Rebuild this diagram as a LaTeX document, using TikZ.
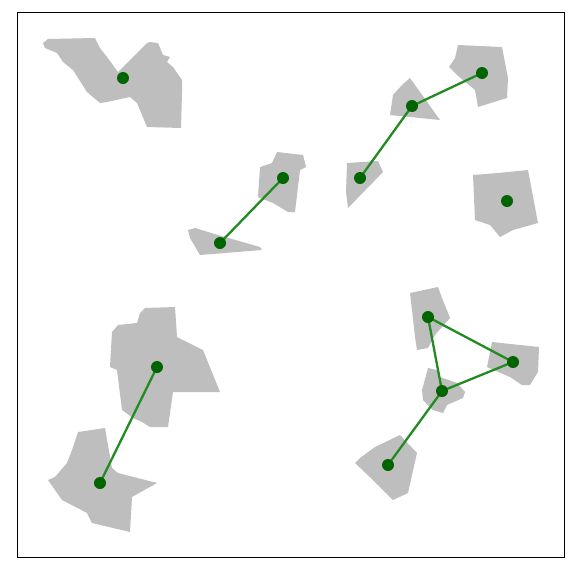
\documentclass[tikz,border=0pt]{standalone}
\usepackage{tikz}
\usetikzlibrary{backgrounds}
\definecolor{regiongray}{RGB}{190,190,190}
\definecolor{edgegreen}{RGB}{34,139,34}
\definecolor{dotgreen}{RGB}{0,100,0}
\tikzset{
  region/.style={fill=regiongray,draw=none},
  site/.style={circle,fill=dotgreen,draw=none,minimum size=12pt,inner sep=0pt},
  link/.style={draw=edgegreen,line width=2.3pt}
}
\begin{document}
\begin{tikzpicture}[x=1pt,y=-1pt]
\useasboundingbox (0,0) rectangle (576,576);
% sites
\node[site] (s1) at (123,78) {};
\node[site] (s2) at (482,73) {};
\node[site] (s3) at (412,106) {};
\node[site] (s4) at (360,178) {};
\node[site] (s5) at (507,201) {};
\node[site] (s6) at (283,178) {};
\node[site] (s7) at (220,243) {};
\node[site] (s8) at (157,367) {};
\node[site] (s9) at (100,483) {};
\node[site] (s10) at (428,317) {};
\node[site] (s11) at (513,362) {};
\node[site] (s12) at (442,391) {};
\node[site] (s13) at (388,465) {};
\begin{pgfonlayer}{background}
% regions
\fill[region] (43,43) -- (48,39) -- (95,38) -- (100,48) -- (107,57) -- (118,72) -- (147,43) -- (150,42) -- (158,43) -- (163,55) -- (170,57) -- (167,62) -- (173,67) -- (182,80) -- (182,93) -- (181,128) -- (147,127) -- (137,103) -- (130,97) -- (107,102) -- (100,103) -- (87,92) -- (73,70) -- (63,62) -- (57,53) -- (45,48) -- cycle;
\fill[region] (458,45) -- (502,47) -- (508,78) -- (507,98) -- (478,107) -- (475,90) -- (457,75) -- (449,67) -- (455,58) -- cycle;
\fill[region] (410,78) -- (440,120) -- (390,115) -- (393,95) -- (402,85) -- cycle;
\fill[region] (347,163) -- (378,161) -- (383,172) -- (348,208) -- (346,192) -- cycle;
\fill[region] (473,175) -- (498,173) -- (528,170) -- (538,223) -- (513,230) -- (500,237) -- (490,225) -- (475,220) -- cycle;
\fill[region] (277,152) -- (303,155) -- (306,167) -- (300,170) -- (295,212) -- (288,212) -- (273,203) -- (258,197) -- (260,167) -- (272,163) -- cycle;
\fill[region] (188,230) -- (195,228) -- (218,235) -- (260,247) -- (262,250) -- (200,255) -- (190,238) -- cycle;
\fill[region] (140,313) -- (145,308) -- (175,307) -- (177,337) -- (203,350) -- (220,392) -- (173,392) -- (168,427) -- (150,427) -- (142,422) -- (133,418) -- (122,410) -- (117,370) -- (110,367) -- (112,332) -- (118,325) -- (137,323) -- cycle;
\fill[region] (78,432) -- (105,428) -- (112,468) -- (118,473) -- (157,483) -- (132,497) -- (130,532) -- (92,523) -- (87,513) -- (62,500) -- (48,480) -- (55,477) -- (67,463) -- (72,450) -- cycle;
\fill[region] (410,293) -- (438,287) -- (442,298) -- (450,318) -- (435,335) -- (428,348) -- (417,350) -- (415,337) -- (412,310) -- cycle;
\fill[region] (492,342) -- (520,345) -- (539,347) -- (538,372) -- (530,385) -- (522,385) -- (510,377) -- (487,367) -- cycle;
\fill[region] (428,368) -- (437,370) -- (440,377) -- (457,383) -- (465,392) -- (463,398) -- (447,405) -- (443,413) -- (433,410) -- (423,400) -- (422,390) -- cycle;
\fill[region] (400,435) -- (417,453) -- (408,493) -- (393,500) -- (375,482) -- (355,463) -- (360,458) -- (375,447) -- cycle;
% links
\draw[link] (s2.center) -- (s3.center);
\draw[link] (s3.center) -- (s4.center);
\draw[link] (s6.center) -- (s7.center);
\draw[link] (s8.center) -- (s9.center);
\draw[link] (s10.center) -- (s12.center);
\draw[link] (s10.center) -- (s11.center);
\draw[link] (s12.center) -- (s11.center);
\draw[link] (s12.center) -- (s13.center);
\end{pgfonlayer}
% frame
\draw[black,line width=1pt] (17,12) rectangle (564,557);
\end{tikzpicture}
\end{document}
